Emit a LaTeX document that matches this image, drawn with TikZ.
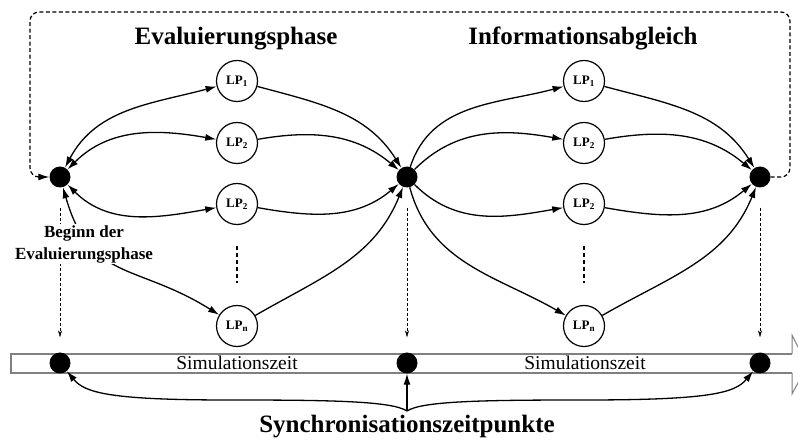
\documentclass[tikz,border=0pt]{standalone}
\usepackage{fontspec}
\setmainfont{Liberation Serif}
\usetikzlibrary{arrows.meta}
\begin{document}
\begin{tikzpicture}[x=1pt,y=1pt,
  dot/.style={circle,fill=black,inner sep=0pt,minimum size=21pt},
  lp/.style={circle,draw,line width=1.2pt,fill=white,inner sep=0pt,minimum size=41pt,
             font=\fontsize{13}{14}\selectfont\bfseries},
  conn/.style={line width=1.3pt,-{Latex[length=11pt,width=7pt]}},
  biconn/.style={line width=1.3pt,{Latex[length=11pt,width=7pt]}-{Latex[length=11pt,width=7pt]}},
  marker/.style={densely dashed,line width=0.5pt,-{Stealth[length=7pt,width=4pt]}},
  loop/.style={dash pattern=on 4pt off 2.5pt,line width=1.2pt,rounded corners=9pt,
               -{Latex[length=11pt,width=7pt]}},
  bar/.style={draw=black!50,line width=1.4pt},
  heading/.style={font=\fontsize{25}{28}\selectfont\bfseries,anchor=base},
  timelabel/.style={font=\fontsize{19.5}{21}\selectfont}
]
\useasboundingbox (0,0) rectangle (798,-443);

% time axis with a break at its open end
\draw[bar] (792,-354) -- (11,-354) -- (11,-373) -- (792,-373);
\draw[bar,line width=1pt] (792,-354) -- (792,-335) -- (799,-349);
\draw[bar,line width=1pt] (792,-373) -- (792,-394) -- (799,-381);
\node[timelabel] (t1) at (237,-363) {Simulationszeit};
\node[timelabel] (t2) at (585,-363) {Simulationszeit};

% synchronisation points
\node[dot] (a) at (60,-177) {};
\node[dot] (b) at (407,-177) {};
\node[dot] (c) at (760,-177) {};
\node[dot] (ta) at (60,-363) {};
\node[dot] (tb) at (407,-363) {};
\node[dot] (tc) at (760,-363) {};

% logical processes
\node[lp] (e1) at (237,-81)  {LP\textsubscript{1}};
\node[lp] (e2) at (237,-143) {LP\textsubscript{2}};
\node[lp] (e3) at (237,-204) {LP\textsubscript{2}};
\node[lp] (en) at (237,-326) {LP\textsubscript{n}};
\node[lp] (i1) at (584,-81)  {LP\textsubscript{1}};
\node[lp] (i2) at (584,-143) {LP\textsubscript{2}};
\node[lp] (i3) at (584,-204) {LP\textsubscript{2}};
\node[lp] (in) at (584,-326) {LP\textsubscript{n}};

\draw[line width=1.3pt,dash pattern=on 4pt off 3pt,shorten <=21pt,shorten >=22pt] (e3) -- (en);
\draw[line width=1.3pt,dash pattern=on 4pt off 3pt,shorten <=21pt,shorten >=22pt] (i3) -- (in);

% headings
\node[heading] (h1) at (236,-45) {Evaluierungsphase};
\node[heading] (h2) at (583,-45) {Informationsabgleich};

% feedback from the end of the exchange back to the next evaluation
\draw[loop] (c.east) -- (790,-177) -- (790,-12) -- (30,-12) -- (30,-177) -- (a.west);

% evaluation phase
\draw[biconn] (a) to[out=62,in=195] (e1);
\draw[biconn] (a) to[out=45,in=170] (e2);
\draw[biconn] (a) to[out=-45,in=190] (e3);
\draw[biconn] (a) to[out=-74,in=148,looseness=1.25] (en);
\draw[conn] (e1) to[out=-15,in=122] (b);
\draw[conn] (e2) to[out=10,in=140] (b);
\draw[conn] (e3) to[out=-10,in=220] (b);
\draw[conn] (en) to[out=30,in=-112] (b);

% information exchange
\draw[conn] (b) to[out=72,in=195] (i1);
\draw[conn] (b) to[out=45,in=170] (i2);
\draw[conn] (b) to[out=-45,in=190] (i3);
\draw[conn] (b) to[out=-75,in=150] (in);
\draw[conn] (i1) to[out=-15,in=122] (c);
\draw[conn] (i2) to[out=10,in=140] (c);
\draw[conn] (i3) to[out=-10,in=220] (c);
\draw[conn] (in) to[out=30,in=-112] (c);

% projection of the points onto the time axis
\draw[marker,shorten <=20pt,shorten >=15pt] (a) -- (ta);
\draw[marker,shorten <=20pt,shorten >=15pt] (b) -- (tb);
\draw[marker,shorten <=20pt,shorten >=15pt] (c) -- (tc);

\node[fill=white,align=center,inner xsep=2pt,inner ysep=1pt,
      font=\fontsize{17}{22}\selectfont\bfseries] (start) at (84,-244)
  {Beginn der\\Evaluierungsphase};

% synchronisation brace
\coordinate (tip) at (407,-411);
\draw[conn] (tip) -- (tb);
\draw[conn] (tip) .. controls (392,-401) and (330,-400) .. (230,-400)
  .. controls (110,-400) and (85,-393) .. (ta);
\draw[conn] (tip) .. controls (422,-401) and (484,-400) .. (584,-400)
  .. controls (710,-400) and (735,-393) .. (tc);
\node[heading] (sync) at (407,-433) {Synchronisationszeitpunkte};
\end{tikzpicture}
\end{document}
